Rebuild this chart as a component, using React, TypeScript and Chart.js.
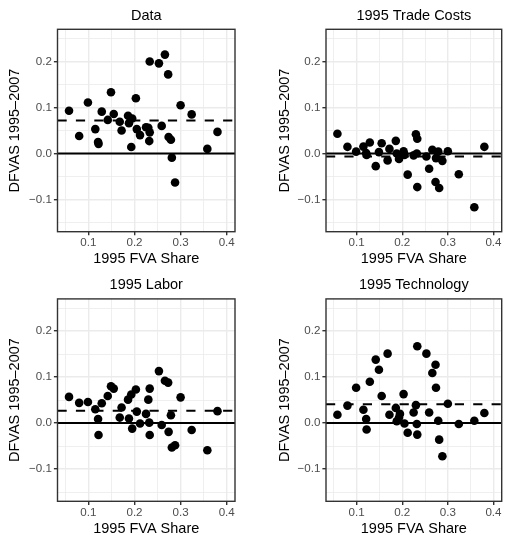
import React, { useEffect, useRef } from "react";
import { Chart, registerables } from "chart.js";

Chart.register(...registerables);

// ---------------- data ----------------
const fvaShare = [
  0.058, 0.08, 0.099, 0.115, 0.121, 0.122, 0.129, 0.142, 0.149, 0.155, 0.168, 0.172,
  0.186, 0.195, 0.188, 0.193, 0.203, 0.205, 0.212, 0.225, 0.23, 0.233, 0.232, 0.233,
  0.253, 0.259, 0.266, 0.273, 0.274, 0.279, 0.281, 0.288, 0.3, 0.324, 0.358, 0.38,
];
const dataDfvas = [
  0.093, 0.038, 0.111, 0.053, 0.025, 0.021, 0.091, 0.073, 0.133, 0.086, 0.069, 0.05,
  0.082, 0.076, 0.066, 0.014, 0.12, 0.053, 0.04, 0.057, 0.056, 0.046, 0.027, 0.2,
  0.196, 0.06, 0.215, 0.172, 0.036, 0.03, -0.009, -0.063, 0.105, 0.085, 0.01, 0.047,
];
const tradeCostsDfvas = [
  0.043, 0.0145, 0.004, 0.015, 0.001, -0.003, 0.024, -0.0275, 0.003, 0.0224, -0.015, 0.01,
  0.0275, -0.005, 0.0, -0.012, 0.005, -0.003, -0.046, -0.004, 0.042, 0.032, 0.0, -0.073,
  -0.0065, -0.033, 0.008, -0.062, -0.01, 0.004, -0.075, -0.016, 0.005, -0.045, -0.117, 0.0145,
];
const laborDfvas = [
  0.057, 0.044, 0.046, 0.03, 0.009, -0.026, 0.043, 0.059, 0.08, 0.075, 0.012, 0.034,
  0.051, -0.012, 0.01, 0.062, 0.073, 0.025, -0.001, 0.02, 0.051, 0.075, 0.001, -0.026,
  0.113, -0.004, 0.092, 0.088, -0.019, 0.017, -0.053, -0.048, 0.056, -0.015, -0.059, 0.026,
];
const technologyDfvas = [
  0.018, 0.038, 0.077, 0.029, 0.009, -0.014, 0.09, 0.138, 0.116, 0.059, 0.151, 0.018,
  0.033, 0.02, 0.004, 0.012, 0.063, -0.001, -0.021, 0.023, 0.039, 0.167, -0.002, -0.025,
  0.151, 0.023, 0.109, 0.127, 0.077, 0.005, -0.036, -0.072, 0.042, -0.002, 0.005, 0.022,
];
const panelTitles = ["Data", "1995 Trade Costs", "1995 Labor", "1995 Technology"];
const panelSeries = [dataDfvas, tradeCostsDfvas, laborDfvas, technologyDfvas];
const dashedLevels = [0.072, -0.0065, 0.027, 0.041];
const zeroLevel = 0;

const xMajorTicks = [0.1, 0.2, 0.3, 0.4];
const xTickLabels = ["0.1", "0.2", "0.3", "0.4"];
const xMinorTicks = [0.05, 0.15, 0.25, 0.35];
const yMajorTicks = [-0.1, 0, 0.1, 0.2];
const yTickLabels = ["\u22120.1", "0.0", "0.1", "0.2"];
const yMinorTicks = [-0.15, -0.05, 0.05, 0.15, 0.25];
const xLimits = [0.033, 0.418];
const yLimits = [-0.17, 0.27];
const xAxisTitle = "1995 FVA Share";
const yAxisTitle = "DFVAS 1995\u20132007";

// ---------------- layout / style ----------------
const FONT = "'Liberation Sans', Arial, Helvetica, sans-serif";
const layouts = [
  { left: 0, top: 0, w: 253, h: 267, pl: 57.5, pr: 235, pt: 29.3, pb: 231.7, titleY: 15.7, xTitleY: 259, yTitleX: 15 },
  { left: 253, top: 0, w: 253, h: 267, pl: 73, pr: 250.7, pt: 29.3, pb: 231.7, titleY: 15.7, xTitleY: 259, yTitleX: 32 },
  { left: 0, top: 267, w: 253, h: 268, pl: 57.5, pr: 235, pt: 31.9, pb: 234.3, titleY: 18.3, xTitleY: 261.6, yTitleX: 15 },
  { left: 253, top: 267, w: 253, h: 268, pl: 73, pr: 250.7, pt: 31.9, pb: 234.3, titleY: 18.3, xTitleY: 261.6, yTitleX: 32 },
];

const near = (a: number, b: number) => Math.abs(a - b) < 1e-9;
const majorIndex = (arr: number[], v: number) => arr.findIndex((m) => near(m, v));

const borderPlugin = {
  id: "panelBorder",
  afterDraw(chart: any) {
    const { ctx, chartArea } = chart;
    const { left, top, right, bottom } = chartArea;
    ctx.save();
    ctx.strokeStyle = "#333333";
    ctx.lineWidth = 1.4;
    ctx.strokeRect(left, top, right - left, bottom - top);
    ctx.restore();
  },
};

function Panel({ idx }: { idx: number }) {
  const ref = useRef<HTMLCanvasElement>(null);
  const L = layouts[idx];
  useEffect(() => {
    if (!ref.current) return;
    const series = panelSeries[idx];
    const TITLE_LH = 17;
    const AX_LH = 12;
    const chart = new Chart(ref.current, {
      type: "scatter",
      data: {
        datasets: [
          {
            type: "scatter",
            data: fvaShare.map((x, i) => ({ x, y: series[i] })),
            pointRadius: 4.3,
            pointBackgroundColor: "#000000",
            pointBorderWidth: 0,
            pointBorderColor: "#000000",
          },
          {
            type: "line",
            data: [
              { x: xLimits[0], y: zeroLevel },
              { x: xLimits[1], y: zeroLevel },
            ],
            borderColor: "#000000",
            borderWidth: 2,
            pointRadius: 0,
            fill: false,
          },
          {
            type: "line",
            data: [
              { x: xLimits[0], y: dashedLevels[idx] },
              { x: xLimits[1], y: dashedLevels[idx] },
            ],
            borderColor: "#000000",
            borderWidth: 2,
            borderDash: [9.2, 9.2],
            pointRadius: 0,
            fill: false,
          },
        ] as any,
      },
      options: {
        animation: false,
        responsive: false,
        devicePixelRatio: 1,
        events: [],
        layout: { padding: { left: 0, right: L.w - L.pr, top: 0, bottom: 0 } },
        plugins: {
          legend: { display: false },
          tooltip: { enabled: false },
          title: {
            display: true,
            text: panelTitles[idx],
            fullSize: false,
            color: "#000000",
            font: { family: FONT, size: 14.5, weight: "normal", lineHeight: TITLE_LH + "px" },
            padding: {
              top: L.titleY - TITLE_LH / 2,
              bottom: L.pt - (L.titleY - TITLE_LH / 2) - TITLE_LH,
            },
          },
        },
        scales: {
          x: {
            type: "linear",
            position: "bottom",
            bounds: "data",
            min: xLimits[0],
            max: xLimits[1],
            afterBuildTicks: (s: any) => {
              s.ticks = [...xMinorTicks, ...xMajorTicks].sort((a, b) => a - b).map((v) => ({ value: v }));
            },
            afterFit: (s: any) => {
              s.height = L.h - L.pb;
            },
            ticks: {
              autoSkip: false,
              maxRotation: 0,
              color: "#4D4D4D",
              padding: 1,
              font: { family: FONT, size: 11.6 },
              callback: (v: any) => {
                const k = majorIndex(xMajorTicks, Number(v));
                return k >= 0 ? xTickLabels[k] : "";
              },
            },
            grid: {
              color: "#EBEBEB",
              lineWidth: (c: any) => (c.tick && majorIndex(xMajorTicks, c.tick.value) >= 0 ? 1.4 : 0.8),
              tickColor: (c: any) =>
                c.tick && majorIndex(xMajorTicks, c.tick.value) >= 0 ? "#333333" : "rgba(0,0,0,0)",
              tickLength: 3.6,
              tickWidth: 1.4,
            },
            border: { display: false },
            title: {
              display: true,
              text: xAxisTitle,
              color: "#000000",
              font: { family: FONT, size: 14.5, lineHeight: AX_LH + "px" },
              padding: { top: 0, bottom: L.h - L.xTitleY - AX_LH / 2 },
            },
          },
          y: {
            type: "linear",
            position: "left",
            bounds: "data",
            min: yLimits[0],
            max: yLimits[1],
            afterBuildTicks: (s: any) => {
              s.ticks = [...yMinorTicks, ...yMajorTicks].sort((a, b) => a - b).map((v) => ({ value: v }));
            },
            afterFit: (s: any) => {
              s.width = L.pl;
            },
            ticks: {
              autoSkip: false,
              color: "#4D4D4D",
              padding: 2,
              font: { family: FONT, size: 11.6 },
              callback: (v: any) => {
                const k = majorIndex(yMajorTicks, Number(v));
                return k >= 0 ? yTickLabels[k] : "";
              },
            },
            grid: {
              color: "#EBEBEB",
              lineWidth: (c: any) => (c.tick && majorIndex(yMajorTicks, c.tick.value) >= 0 ? 1.4 : 0.8),
              tickColor: (c: any) =>
                c.tick && majorIndex(yMajorTicks, c.tick.value) >= 0 ? "#333333" : "rgba(0,0,0,0)",
              tickLength: 3.6,
              tickWidth: 1.4,
            },
            border: { display: false },
            title: {
              display: true,
              text: yAxisTitle,
              color: "#000000",
              font: { family: FONT, size: 14.5, lineHeight: AX_LH + "px" },
              padding: { top: L.yTitleX - AX_LH / 2, bottom: 0 },
            },
          },
        },
      } as any,
      plugins: [borderPlugin],
    });
    return () => chart.destroy();
  }, [idx]);
  return (
    <canvas
      ref={ref}
      width={L.w}
      height={L.h}
      style={{ position: "absolute", left: L.left, top: L.top, width: L.w, height: L.h }}
    />
  );
}

export default function App() {
  return (
    <div
      style={{
        position: "absolute",
        left: 0,
        top: 0,
        width: 506,
        height: 535,
        overflow: "hidden",
        background: "#ffffff",
      }}
    >
      {panelTitles.map((_, i) => (
        <Panel key={i} idx={i} />
      ))}
    </div>
  );
}
